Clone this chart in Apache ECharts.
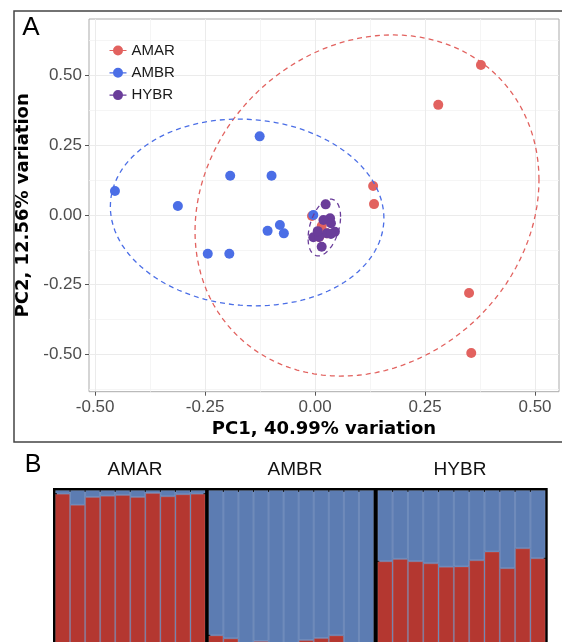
<!DOCTYPE html>
<html>
<head>
<meta charset="utf-8">
<script src="https://cdn.jsdelivr.net/npm/echarts@6/dist/echarts.min.js"></script>
<style>
html, body { margin: 0; padding: 0; background: #fff; }
#main { width: 562px; height: 642px; }
</style>
</head>
<body>
<div id="main"></div>
<script>
// PCA scores [PC1, PC2] per group
const amarPts = [[0.377, 0.538], [0.280, 0.395], [0.132, 0.104], [0.134, 0.039], [0.350, -0.280],
  [0.355, -0.495], [0.015, -0.040], [-0.007, -0.004], [0.027, -0.066], [0.009, -0.079]];
const ambrPts = [[-0.455, 0.086], [-0.312, 0.032], [-0.126, 0.282], [-0.193, 0.141], [-0.099, 0.141],
  [-0.244, -0.139], [-0.195, -0.139], [-0.108, -0.057], [-0.080, -0.036], [-0.071, -0.066], [-0.004, 0.000]];
const hybrPts = [[0.024, 0.038], [0.034, -0.012], [0.019, -0.018], [0.045, -0.060], [0.027, -0.066],
  [-0.004, -0.080], [0.015, -0.114], [0.009, -0.079], [0.036, -0.030], [0.036, -0.068], [0.006, -0.058]];

// ellipses: [centerX, centerY, sxx, sxy, syy]
const amarEllipse = [0.118, 0.034, 0.1529, 0.0361, 0.3745];
const ambrEllipse = [-0.1545, 0.009, 0.0967, -0.0065, 0.1122];
const hybrEllipse = [0.021, -0.045, 0.00136, 0.00143, 0.0104];

const pcTicks = [-0.5, -0.25, 0, 0.25, 0.5];
const pc1Minor = [-0.375, -0.125, 0.125, 0.375];
const pc2Minor = [-0.625, -0.375, -0.125, 0.125, 0.375, 0.625];

// structure plot: share of red cluster per individual
const groups = ['AMAR', 'AMBR', 'HYBR'];
const amarQ = [0.977, 0.906, 0.956, 0.964, 0.969, 0.956, 0.981, 0.960, 0.973, 0.977];
const ambrQ = [0.080, 0.061, 0.020, 0.044, 0.030, 0.020, 0.050, 0.063, 0.080, 0.020, 0.020];
const hybrQ = [0.549, 0.564, 0.549, 0.536, 0.514, 0.516, 0.555, 0.610, 0.505, 0.631, 0.568];

const RED = '#E2625F', BLUE = '#4B6EE6', PURPLE = '#6A3D9A';
const K1 = '#B43730', K2 = '#5C7CB2';
const FONT = 'Liberation Sans, Arial, sans-serif';

const chart = echarts.init(document.getElementById('main'));

function ellipseItem(color) {
  return function (params, api) {
    const cx = api.value(0), cy = api.value(1);
    const sxx = api.value(2), sxy = api.value(3), syy = api.value(4);
    const l11 = Math.sqrt(sxx), l21 = sxy / l11, l22 = Math.sqrt(syy - l21 * l21);
    const pts = [];
    for (let i = 0; i <= 120; i++) {
      const t = i / 120 * Math.PI * 2;
      pts.push(api.coord([cx + l11 * Math.cos(t), cy + l21 * Math.cos(t) + l22 * Math.sin(t)]));
    }
    return {
      type: 'polyline',
      shape: { points: pts },
      style: { stroke: color, lineWidth: 1.3, lineDash: [5, 4], fill: null }
    };
  };
}

const keyIcon = 'path://M0,4.4L17,4.4L17,5.6L0,5.6Z M13.5,5A5,5,0,1,1,3.5,5A5,5,0,1,1,13.5,5Z';

const pcAxisLabel = { color: '#4D4D4D', fontSize: 17, fontFamily: FONT, customValues: pcTicks, formatter: v => v.toFixed(2) };
const titleStyle = { color: '#000', fontSize: 18, fontWeight: 'bold', fontFamily: 'DejaVu Sans, sans-serif' };

const qLists = [amarQ, ambrQ, hybrQ];
const bGrids = [{ left: 55, width: 150.5 }, { left: 208.3, width: 165.7 }, { left: 377.3, width: 168.4 }];

const grid = [{ left: 89, top: 19, width: 470, height: 372.7, show: true, borderColor: '#ABABAB', borderWidth: 1,
  backgroundColor: '#fff', outerBoundsMode: 'none' }];
const xAxis = [
  { gridIndex: 0, type: 'value', min: -0.514, max: 0.5545, axisLine: { show: false, onZero: false },
    axisTick: { show: true, length: 4, customValues: pcTicks, lineStyle: { color: '#555' } },
    axisLabel: Object.assign({ margin: 7 }, pcAxisLabel),
    splitLine: { show: true, lineStyle: { color: '#EBEBEB', width: 1 } },
    name: 'PC1, 40.99% variation', nameLocation: 'middle', nameGap: 27, nameTextStyle: titleStyle },
  { gridIndex: 0, type: 'value', min: -0.514, max: 0.5545, axisLine: { show: false, onZero: false },
    axisTick: { show: false, customValues: pc1Minor }, axisLabel: { show: false },
    splitLine: { show: true, lineStyle: { color: '#F3F3F3', width: 0.8 } } }
];
const yAxis = [
  { gridIndex: 0, type: 'value', min: -0.634, max: 0.703, axisLine: { show: false, onZero: false },
    axisTick: { show: true, length: 4, customValues: pcTicks, lineStyle: { color: '#555' } },
    axisLabel: Object.assign({ margin: 7 }, pcAxisLabel),
    splitLine: { show: true, lineStyle: { color: '#EBEBEB', width: 1 } },
    name: 'PC2, 12.56% variation', nameLocation: 'middle', nameGap: 52, nameTextStyle: titleStyle },
  { gridIndex: 0, type: 'value', min: -0.634, max: 0.703, axisLine: { show: false, onZero: false },
    axisTick: { show: false, customValues: pc2Minor }, axisLabel: { show: false },
    splitLine: { show: true, lineStyle: { color: '#F3F3F3', width: 0.8 } } }
];

const series = [
  { name: 'AMAR', type: 'scatter', data: amarPts, symbolSize: 10, itemStyle: { color: RED, opacity: 1 } },
  { name: 'AMBR', type: 'scatter', data: ambrPts, symbolSize: 10, itemStyle: { color: BLUE, opacity: 1 } },
  { name: 'HYBR', type: 'scatter', data: hybrPts, symbolSize: 10, itemStyle: { color: PURPLE, opacity: 1 } },
  { name: 'AMAR ellipse', type: 'custom', data: [amarEllipse], renderItem: ellipseItem(RED), z: 3, silent: true },
  { name: 'AMBR ellipse', type: 'custom', data: [ambrEllipse], renderItem: ellipseItem(BLUE), z: 3, silent: true },
  { name: 'HYBR ellipse', type: 'custom', data: [hybrEllipse], renderItem: ellipseItem(PURPLE), z: 3, silent: true }
];

groups.forEach((g, i) => {
  const q = qLists[i];
  grid.push({ left: bGrids[i].left, width: bGrids[i].width, top: 490, height: 158, outerBoundsMode: 'none',
    show: true, borderColor: '#000', borderWidth: 4, backgroundColor: K2 });
  xAxis.push({ gridIndex: i + 1, type: 'category', data: q.map((v, j) => g + (j + 1)), show: false });
  yAxis.push({ gridIndex: i + 1, type: 'value', min: 0, max: 1, show: false });
  const bar = { type: 'bar', xAxisIndex: i + 2, yAxisIndex: i + 2, stack: g, barWidth: '100%',
    itemStyle: { borderColor: 'rgba(255,255,255,0.13)', borderWidth: 1 } };
  series.push(Object.assign({}, bar, { name: g + ' K1', data: q, itemStyle: Object.assign({ color: K1 }, bar.itemStyle) }));
  series.push(Object.assign({}, bar, { name: g + ' K2', data: q.map(v => 1 - v), itemStyle: Object.assign({ color: K2 }, bar.itemStyle) }));
});

const groupLabelX = [135, 295, 460];

chart.setOption({
  backgroundColor: '#fff',
  animation: false,
  grid: grid,
  xAxis: xAxis,
  yAxis: yAxis,
  legend: {
    data: [{ name: 'AMAR', icon: keyIcon }, { name: 'AMBR', icon: keyIcon }, { name: 'HYBR', icon: keyIcon }],
    orient: 'vertical', left: 104.5, top: 37.5, itemWidth: 17, itemHeight: 10, itemGap: 6.3,
    textStyle: { fontSize: 15, color: '#1A1A1A', fontFamily: FONT, lineHeight: 16 }
  },
  graphic: [
    { type: 'rect', shape: { x: 14, y: 11, width: 560, height: 431 }, style: { fill: null, stroke: '#444', lineWidth: 1.5 }, z: -1 },
    { type: 'text', style: { text: 'A', x: 31, y: 28, textAlign: 'center', textVerticalAlign: 'middle', font: '26px ' + FONT, fill: '#000' } },
    { type: 'text', style: { text: 'B', x: 33, y: 465, textAlign: 'center', textVerticalAlign: 'middle', font: '25px ' + FONT, fill: '#000' } }
  ].concat(groups.map((g, i) => ({
    type: 'text', style: { text: g, x: groupLabelX[i], y: 470, textAlign: 'center', textVerticalAlign: 'middle', font: '19px ' + FONT, fill: '#111' }
  }))),
  series: series
});
</script>
</body>
</html>
